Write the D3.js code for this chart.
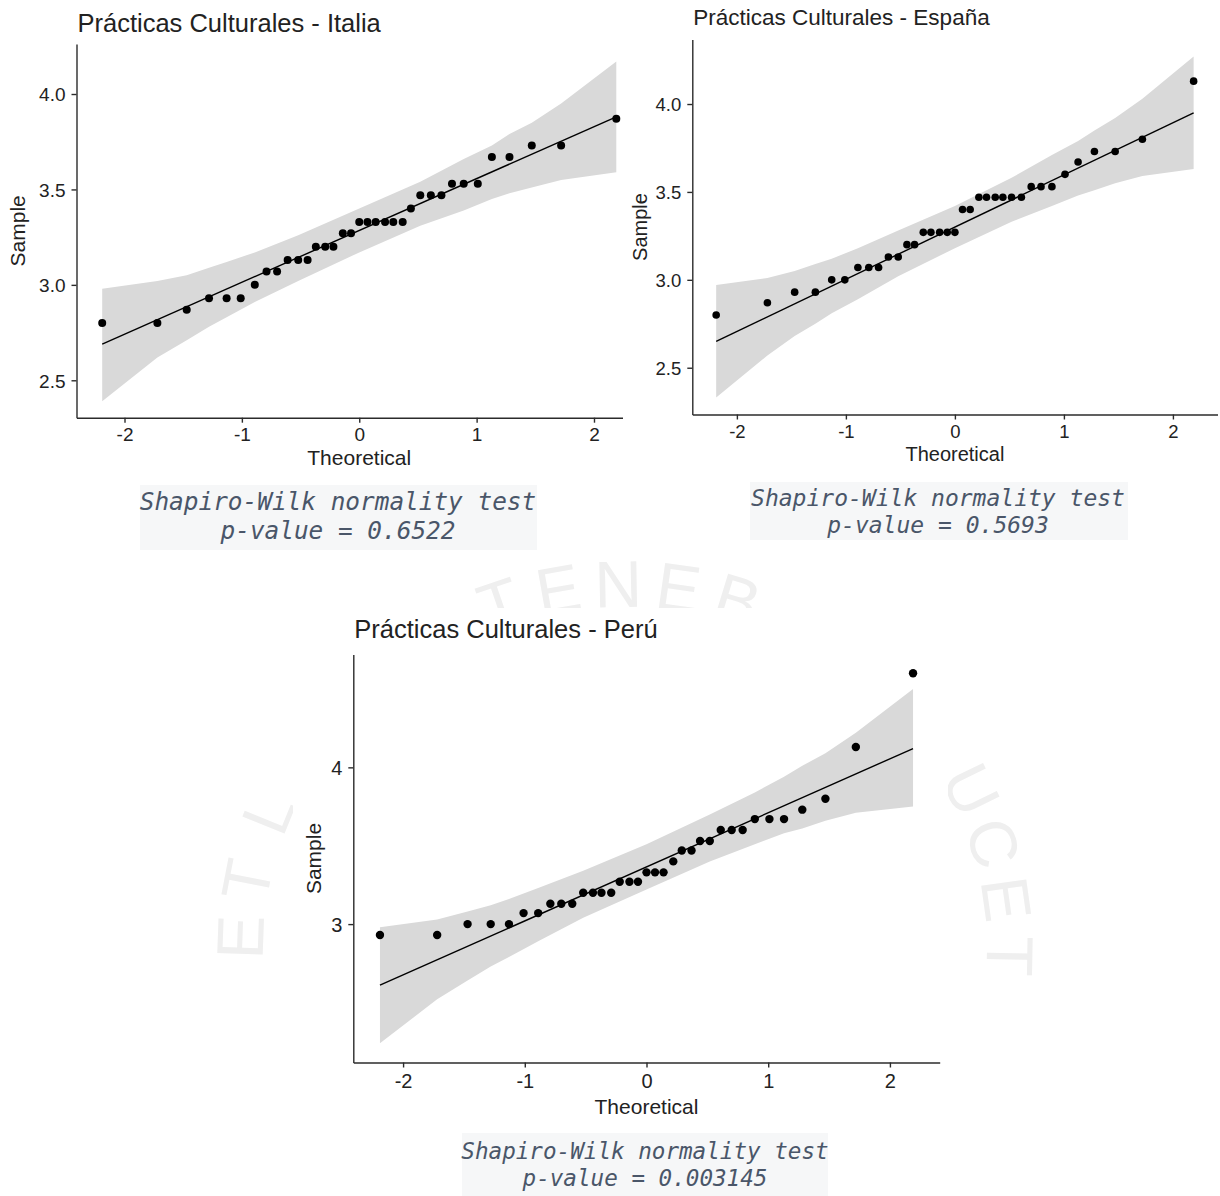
<!DOCTYPE html>
<html>
<head>
<meta charset="utf-8">
<script src="https://cdn.jsdelivr.net/npm/d3@7"></script>
<style>
  html, body { margin: 0; padding: 0; background: #fff; }
  svg { display: block; }
  text { font-family: "Liberation Sans", Arial, Helvetica, sans-serif; }
  .mono { font-family: "DejaVu Sans Mono", monospace; font-style: italic; fill: #4a5669; }
</style>
</head>
<body>
<svg id="chart" width="1220" height="1196"></svg>
<script>
// theoretical quantiles (same n = 35 in the three samples)
var theoretical = [-2.19, -1.72, -1.47, -1.28, -1.13, -1.01, -0.89, -0.79, -0.70, -0.61, -0.52, -0.44,
  -0.37, -0.29, -0.22, -0.14, -0.07, 0, 0.07, 0.14, 0.22, 0.29, 0.37, 0.44, 0.52, 0.61, 0.70, 0.79,
  0.89, 1.01, 1.13, 1.28, 1.47, 1.72, 2.19];

var italia = [2.80, 2.80, 2.87, 2.93, 2.93, 2.93, 3.00, 3.07, 3.07, 3.13, 3.13, 3.13, 3.20, 3.20, 3.20,
  3.27, 3.27, 3.33, 3.33, 3.33, 3.33, 3.33, 3.33, 3.40, 3.47, 3.47, 3.47, 3.53, 3.53, 3.53, 3.67, 3.67,
  3.73, 3.73, 3.87];
var espana = [2.80, 2.87, 2.93, 2.93, 3.00, 3.00, 3.07, 3.07, 3.07, 3.13, 3.13, 3.20, 3.20, 3.27, 3.27,
  3.27, 3.27, 3.27, 3.40, 3.40, 3.47, 3.47, 3.47, 3.47, 3.47, 3.47, 3.53, 3.53, 3.53, 3.60, 3.67, 3.73,
  3.73, 3.80, 4.13];
var peru = [2.93, 2.93, 3.00, 3.00, 3.00, 3.07, 3.07, 3.13, 3.13, 3.13, 3.20, 3.20, 3.20, 3.20, 3.27,
  3.27, 3.27, 3.33, 3.33, 3.33, 3.40, 3.47, 3.47, 3.53, 3.53, 3.60, 3.60, 3.60, 3.67, 3.67, 3.67, 3.73,
  3.80, 4.13, 4.60];

// grey confidence band, read at these quantiles
var bandX = [-2.19, -1.72, -1.47, -1.28, -1.13, -0.89, -0.52, 0, 0.52, 0.89, 1.13, 1.28, 1.47, 1.72, 2.19];
var italiaUpper = [2.98, 3.02, 3.05, 3.09, 3.12, 3.17, 3.26, 3.40, 3.54, 3.66, 3.73, 3.79, 3.85, 3.95, 4.17];
var italiaLower = [2.39, 2.62, 2.71, 2.78, 2.83, 2.91, 3.02, 3.17, 3.31, 3.39, 3.45, 3.48, 3.51, 3.55, 3.59];
var espanaUpper = [2.97, 3.01, 3.05, 3.09, 3.12, 3.18, 3.28, 3.42, 3.58, 3.71, 3.79, 3.85, 3.92, 4.03, 4.27];
var espanaLower = [2.33, 2.57, 2.68, 2.75, 2.81, 2.89, 3.02, 3.18, 3.33, 3.42, 3.48, 3.51, 3.55, 3.59, 3.63];
var peruUpper = [2.98, 3.03, 3.08, 3.12, 3.16, 3.23, 3.34, 3.51, 3.70, 3.84, 3.94, 4.01, 4.09, 4.22, 4.50];
var peruLower = [2.24, 2.52, 2.64, 2.73, 2.79, 2.89, 3.04, 3.22, 3.40, 3.51, 3.58, 3.61, 3.66, 3.71, 3.75];

// reference line, its value at both ends
var lineX = [-2.19, 2.19];
var italiaLine = [2.69, 3.88];
var espanaLine = [2.65, 3.95];
var peruLine = [2.61, 4.12];

var xTicks = [-2, -1, 0, 1, 2];
var italiaTicks = [2.5, 3.0, 3.5, 4.0];
var espanaTicks = [2.5, 3.0, 3.5, 4.0];
var peruTicks = [3, 4];

var titles = ["Prácticas Culturales - Italia", "Prácticas Culturales - España", "Prácticas Culturales - Perú"];
var testName = "Shapiro-Wilk normality test";
var pValues = ["0.6522", "0.5693", "0.003145"];
var sealText = "ET LUX IN TENEBRIS LUCET";

var svg = d3.select("#chart");

// white backing of the lower plot
var box = {x: 293, y: 608, w: 655, h: 519};

// faint seal in the background, one letter at a time round an ellipse
var wm = svg.append("g").attr("fill", "#efefef").attr("font-size", 66);
var cx = 625, cy = 950, rx = 362, ry = 343;
var chars = sealText.split("");
var ang = 182;
chars.forEach(function(c, i) {
  if (i > 0) ang += (c === " " || chars[i - 1] === " ") ? 5.5 : 9;
  if (c === " ") return;
  var t = ang * Math.PI / 180;
  var px = cx + rx * Math.cos(t), py = cy + ry * Math.sin(t);
  // centre of the glyph sits a bit outside the baseline
  var gx = px + 24 * Math.cos(t), gy = py + 24 * Math.sin(t);
  if (gx > box.x && gx < box.x + box.w && gy > box.y && gy < box.y + box.h) return;
  wm.append("text")
      .attr("text-anchor", "middle")
      .attr("transform", "translate(" + px + "," + py + ") rotate(" + (ang + 90) + ")")
      .text(c);
});

svg.append("rect").attr("x", box.x).attr("y", box.y).attr("width", box.w).attr("height", box.h).attr("fill", "#fff");
// console boxes
svg.append("rect").attr("x", 140).attr("y", 485).attr("width", 397).attr("height", 65).attr("fill", "#f6f7f8");
svg.append("rect").attr("x", 750).attr("y", 482).attr("width", 378).attr("height", 58).attr("fill", "#f6f7f8");
svg.append("rect").attr("x", 462).attr("y", 1133).attr("width", 366).attr("height", 63).attr("fill", "#f6f7f8");

svg.append("clipPath").attr("id", "cropItalia")
  .append("rect").attr("x", 0).attr("y", 0).attr("width", 623).attr("height", 480);

function drawPanel(p) {
  var g = svg.append("g");
  if (p.clip) g.attr("clip-path", "url(#" + p.clip + ")");

  var x = d3.scaleLinear().domain([-2.409, 2.409]).range([p.left, p.right]);
  var y = d3.scaleLinear().domain(p.yDomain).range([p.bottom, p.top]);

  var band = bandX.map(function(v, i) { return {x: v, lo: p.lower[i], hi: p.upper[i]}; });
  g.append("path")
      .datum(band)
      .attr("fill", "#d9d9d9")
      .attr("d", d3.area()
        .x(function(d) { return x(d.x); })
        .y0(function(d) { return y(d.lo); })
        .y1(function(d) { return y(d.hi); }));

  g.append("path")
      .datum(lineX.map(function(v, i) { return [v, p.line[i]]; }))
      .attr("fill", "none")
      .attr("stroke", "#000")
      .attr("stroke-width", 1.4)
      .attr("d", d3.line()
        .x(function(d) { return x(d[0]); })
        .y(function(d) { return y(d[1]); }));

  g.append("g")
    .selectAll("circle")
    .data(p.values)
    .enter().append("circle")
      .attr("cx", function(d, i) { return x(theoretical[i]); })
      .attr("cy", function(d) { return y(d); })
      .attr("r", p.r)
      .attr("fill", "#000");

  var xa = g.append("g")
      .attr("transform", "translate(0," + p.bottom + ")")
      .call(d3.axisBottom(x).tickValues(xTicks).tickSize(5).tickSizeOuter(0)
        .tickFormat(function(d) { return String(d); }));
  xa.selectAll("text")
      .attr("y", p.xLabelY)
      .attr("dy", null)
      .attr("font-size", p.tickSize)
      .attr("fill", "#222");

  var ya = g.append("g")
      .attr("transform", "translate(" + p.left + ",0)")
      .call(d3.axisLeft(y).tickValues(p.yTicks).tickSize(5).tickSizeOuter(0).tickPadding(6)
        .tickFormat(p.yFormat));
  ya.selectAll("text")
      .attr("font-size", p.tickSize)
      .attr("fill", "#222")
      .attr("dy", "0.36em");

  [xa, ya].forEach(function(a) {
    a.attr("font-family", null);
    a.selectAll("path, line").attr("stroke", "#2b2b2b").attr("stroke-width", 1.4);
  });

  g.append("text")
      .attr("x", (p.left + p.right) / 2)
      .attr("y", p.xTitleY)
      .attr("text-anchor", "middle")
      .attr("font-size", p.axisSize)
      .attr("fill", "#222")
      .text("Theoretical");

  g.append("text")
      .attr("transform", "translate(" + p.yTitleX + "," + (p.top + p.bottom) / 2 + ") rotate(-90)")
      .attr("text-anchor", "middle")
      .attr("font-size", p.axisSize)
      .attr("fill", "#222")
      .text("Sample");

  svg.append("text")
      .attr("x", p.left + 1)
      .attr("y", p.titleY)
      .attr("font-size", p.titleSize)
      .attr("fill", "#222")
      .text(p.title);

  svg.append("text")
      .attr("class", "mono")
      .attr("x", p.testX)
      .attr("y", p.testY[0])
      .attr("text-anchor", "middle")
      .attr("font-size", p.monoSize)
      .text(testName);
  svg.append("text")
      .attr("class", "mono")
      .attr("x", p.testX)
      .attr("y", p.testY[1])
      .attr("text-anchor", "middle")
      .attr("font-size", p.monoSize)
      .text("p-value = " + p.pValue);
}

drawPanel({
  title: titles[0], values: italia, upper: italiaUpper, lower: italiaLower, line: italiaLine,
  yDomain: [2.304, 4.262], yTicks: italiaTicks, yFormat: function(d) { return d.toFixed(1); },
  left: 76.5, right: 642, top: 44, bottom: 417.7, clip: "cropItalia", r: 4,
  xLabelY: 23, xTitleY: 465, yTitleX: 25, titleY: 32, titleSize: 25.5, tickSize: 19, axisSize: 21,
  testX: 338, testY: [510, 539], monoSize: 24.4, pValue: pValues[0]
});
drawPanel({
  title: titles[1], values: espana, upper: espanaUpper, lower: espanaLower, line: espanaLine,
  yDomain: [2.234, 4.367], yTicks: espanaTicks, yFormat: function(d) { return d.toFixed(1); },
  left: 692.3, right: 1217.5, top: 39.5, bottom: 414.5, r: 3.8,
  xLabelY: 23, xTitleY: 461, yTitleX: 647, titleY: 25, titleSize: 22.5, tickSize: 18.5, axisSize: 20,
  testX: 938, testY: [506, 533], monoSize: 23, pValue: pValues[1]
});
drawPanel({
  title: titles[2], values: peru, upper: peruUpper, lower: peruLower, line: peruLine,
  yDomain: [2.117, 4.720], yTicks: peruTicks, yFormat: function(d) { return String(d); },
  left: 353.3, right: 939.7, top: 654.5, bottom: 1062.5, r: 4.2,
  xLabelY: 25, xTitleY: 1114, yTitleX: 321, titleY: 638, titleSize: 25.5, tickSize: 20, axisSize: 21,
  testX: 645, testY: [1159, 1186], monoSize: 22.6, pValue: pValues[2]
});
</script>
</body>
</html>
